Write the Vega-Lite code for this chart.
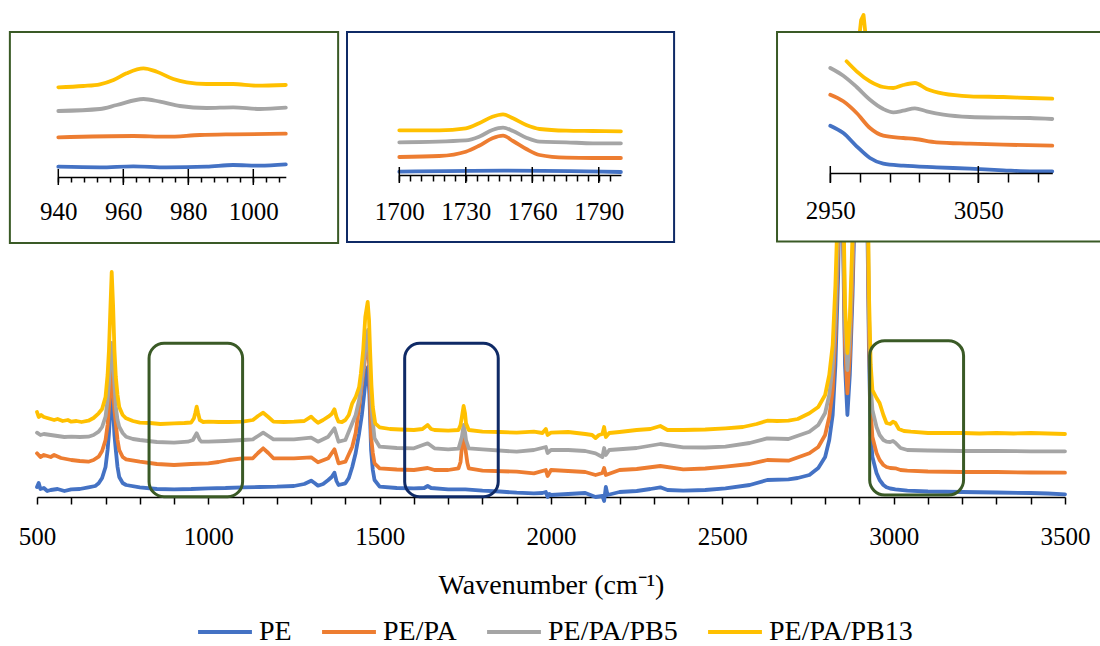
{
"$schema":"https://vega.github.io/schema/vega-lite/v6.json",
"width":1028,"height":497,
"autosize":{"type":"none"},
"padding":{"left":37,"top":0,"right":35,"bottom":149},
"background":"white",
"config":{"view":{"stroke":null},"font":"Liberation Serif",
"axis":{"grid":false,"labelFont":"Liberation Serif","titleFont":"Liberation Serif","labelColor":"black","titleColor":"black","labelFlush":false,"labelOverlap":false,"domainColor":"black","tickColor":"black","domainWidth":1.5,"tickWidth":1.5,"titleFontWeight":"normal"},
"legend":{"labelFont":"Liberation Serif","labelColor":"black"}},
"datasets":{
"main":[
{"s":"PE","w":500,"v":8},{"s":"PE","w":505,"v":12},{"s":"PE","w":510,"v":6},{"s":"PE","w":520,"v":7},{"s":"PE","w":530,"v":4},{"s":"PE","w":540,"v":5},{"s":"PE","w":560,"v":6},{"s":"PE","w":580,"v":4},{"s":"PE","w":600,"v":5.7},{"s":"PE","w":625,"v":6},{"s":"PE","w":650,"v":7.7},{"s":"PE","w":670,"v":9},{"s":"PE","w":680,"v":11.7},{"s":"PE","w":690,"v":17},{"s":"PE","w":700,"v":28},{"s":"PE","w":706,"v":45},{"s":"PE","w":710,"v":61.7},{"s":"PE","w":714,"v":85},{"s":"PE","w":718,"v":110},{"s":"PE","w":722,"v":85},{"s":"PE","w":726,"v":60},{"s":"PE","w":730,"v":45},{"s":"PE","w":735,"v":28},{"s":"PE","w":740,"v":18},{"s":"PE","w":750,"v":12},{"s":"PE","w":760,"v":10},{"s":"PE","w":800,"v":7.7},{"s":"PE","w":850,"v":6},{"s":"PE","w":900,"v":5.7},{"s":"PE","w":950,"v":6},{"s":"PE","w":1000,"v":6.7},{"s":"PE","w":1050,"v":7},{"s":"PE","w":1100,"v":7.7},{"s":"PE","w":1150,"v":8},{"s":"PE","w":1200,"v":8.3},{"s":"PE","w":1250,"v":9},{"s":"PE","w":1280,"v":11},{"s":"PE","w":1300,"v":14.3},{"s":"PE","w":1310,"v":12},{"s":"PE","w":1320,"v":9.3},{"s":"PE","w":1335,"v":11},{"s":"PE","w":1350,"v":15},{"s":"PE","w":1360,"v":18},{"s":"PE","w":1368,"v":22.3},{"s":"PE","w":1374,"v":14},{"s":"PE","w":1380,"v":10},{"s":"PE","w":1400,"v":11.7},{"s":"PE","w":1410,"v":17},{"s":"PE","w":1420,"v":28},{"s":"PE","w":1430,"v":42},{"s":"PE","w":1440,"v":61.7},{"s":"PE","w":1448,"v":80},{"s":"PE","w":1455,"v":101.7},{"s":"PE","w":1462,"v":125},{"s":"PE","w":1466,"v":128},{"s":"PE","w":1470,"v":100},{"s":"PE","w":1475,"v":45},{"s":"PE","w":1480,"v":25},{"s":"PE","w":1485,"v":15},{"s":"PE","w":1500,"v":8.3},{"s":"PE","w":1550,"v":7},{"s":"PE","w":1600,"v":6.7},{"s":"PE","w":1630,"v":7},{"s":"PE","w":1640,"v":9},{"s":"PE","w":1650,"v":7},{"s":"PE","w":1700,"v":5.7},{"s":"PE","w":1750,"v":5.7},{"s":"PE","w":1800,"v":4.3},{"s":"PE","w":1850,"v":3.5},{"s":"PE","w":1900,"v":2.3},{"s":"PE","w":1950,"v":1.7},{"s":"PE","w":1975,"v":2},{"s":"PE","w":1985,"v":3},{"s":"PE","w":1990,"v":-2},{"s":"PE","w":1995,"v":1},{"s":"PE","w":2000,"v":0},{"s":"PE","w":2050,"v":1},{"s":"PE","w":2100,"v":2},{"s":"PE","w":2130,"v":-2},{"s":"PE","w":2150,"v":-1},{"s":"PE","w":2155,"v":-6},{"s":"PE","w":2160,"v":8},{"s":"PE","w":2165,"v":0},{"s":"PE","w":2200,"v":3},{"s":"PE","w":2250,"v":4},{"s":"PE","w":2290,"v":6},{"s":"PE","w":2319,"v":7.7},{"s":"PE","w":2340,"v":5},{"s":"PE","w":2386,"v":4.3},{"s":"PE","w":2450,"v":5},{"s":"PE","w":2509,"v":6.7},{"s":"PE","w":2580,"v":10},{"s":"PE","w":2631,"v":15},{"s":"PE","w":2693,"v":15.7},{"s":"PE","w":2720,"v":17},{"s":"PE","w":2754,"v":20},{"s":"PE","w":2780,"v":27},{"s":"PE","w":2800,"v":38},{"s":"PE","w":2812,"v":55},{"s":"PE","w":2822,"v":80},{"s":"PE","w":2830,"v":130},{"s":"PE","w":2838,"v":220},{"s":"PE","w":2843,"v":320},{"s":"PE","w":2848,"v":380},{"s":"PE","w":2853,"v":240},{"s":"PE","w":2858,"v":130},{"s":"PE","w":2865,"v":80},{"s":"PE","w":2872,"v":120},{"s":"PE","w":2880,"v":200},{"s":"PE","w":2888,"v":310},{"s":"PE","w":2897,"v":390},{"s":"PE","w":2905,"v":408},{"s":"PE","w":2912,"v":410},{"s":"PE","w":2918,"v":390},{"s":"PE","w":2923,"v":280},{"s":"PE","w":2928,"v":140},{"s":"PE","w":2933,"v":60},{"s":"PE","w":2938,"v":38},{"s":"PE","w":2950,"v":22},{"s":"PE","w":2959,"v":15},{"s":"PE","w":2970,"v":10},{"s":"PE","w":2979,"v":7.7},{"s":"PE","w":2990,"v":6.5},{"s":"PE","w":3005,"v":5.7},{"s":"PE","w":3040,"v":4.3},{"s":"PE","w":3100,"v":3.5},{"s":"PE","w":3200,"v":3},{"s":"PE","w":3300,"v":2.5},{"s":"PE","w":3400,"v":2},{"s":"PE","w":3450,"v":1.5},{"s":"PE","w":3500,"v":0.7},
{"s":"PE/PA","w":500,"v":41.7},{"s":"PE/PA","w":510,"v":38},{"s":"PE/PA","w":520,"v":40},{"s":"PE/PA","w":540,"v":38},{"s":"PE/PA","w":550,"v":40},{"s":"PE/PA","w":570,"v":37},{"s":"PE/PA","w":600,"v":35},{"s":"PE/PA","w":625,"v":34},{"s":"PE/PA","w":650,"v":33.3},{"s":"PE/PA","w":665,"v":35},{"s":"PE/PA","w":680,"v":38.3},{"s":"PE/PA","w":690,"v":44},{"s":"PE/PA","w":700,"v":55},{"s":"PE/PA","w":706,"v":70},{"s":"PE/PA","w":710,"v":88},{"s":"PE/PA","w":714,"v":105},{"s":"PE/PA","w":718,"v":125},{"s":"PE/PA","w":722,"v":105},{"s":"PE/PA","w":726,"v":85},{"s":"PE/PA","w":730,"v":71.7},{"s":"PE/PA","w":735,"v":55},{"s":"PE/PA","w":740,"v":45},{"s":"PE/PA","w":750,"v":38},{"s":"PE/PA","w":760,"v":35.7},{"s":"PE/PA","w":800,"v":33.3},{"s":"PE/PA","w":850,"v":31},{"s":"PE/PA","w":900,"v":30},{"s":"PE/PA","w":950,"v":31},{"s":"PE/PA","w":1000,"v":31.7},{"s":"PE/PA","w":1030,"v":33},{"s":"PE/PA","w":1060,"v":35},{"s":"PE/PA","w":1100,"v":36.7},{"s":"PE/PA","w":1130,"v":36.7},{"s":"PE/PA","w":1145,"v":42},{"s":"PE/PA","w":1160,"v":46.7},{"s":"PE/PA","w":1175,"v":42},{"s":"PE/PA","w":1190,"v":36.7},{"s":"PE/PA","w":1250,"v":36.7},{"s":"PE/PA","w":1300,"v":37.7},{"s":"PE/PA","w":1320,"v":32.7},{"s":"PE/PA","w":1350,"v":36.7},{"s":"PE/PA","w":1368,"v":45.7},{"s":"PE/PA","w":1380,"v":31.7},{"s":"PE/PA","w":1400,"v":33.3},{"s":"PE/PA","w":1420,"v":48.3},{"s":"PE/PA","w":1430,"v":62},{"s":"PE/PA","w":1440,"v":88},{"s":"PE/PA","w":1448,"v":110},{"s":"PE/PA","w":1455,"v":130},{"s":"PE/PA","w":1462,"v":150},{"s":"PE/PA","w":1466,"v":152},{"s":"PE/PA","w":1470,"v":125},{"s":"PE/PA","w":1475,"v":58},{"s":"PE/PA","w":1480,"v":42},{"s":"PE/PA","w":1485,"v":31.7},{"s":"PE/PA","w":1500,"v":26.7},{"s":"PE/PA","w":1550,"v":25.5},{"s":"PE/PA","w":1600,"v":25},{"s":"PE/PA","w":1640,"v":27},{"s":"PE/PA","w":1660,"v":25},{"s":"PE/PA","w":1700,"v":25},{"s":"PE/PA","w":1730,"v":26.7},{"s":"PE/PA","w":1736,"v":33},{"s":"PE/PA","w":1740,"v":48.3},{"s":"PE/PA","w":1745,"v":58},{"s":"PE/PA","w":1749,"v":50},{"s":"PE/PA","w":1752,"v":41.7},{"s":"PE/PA","w":1756,"v":32},{"s":"PE/PA","w":1760,"v":26.7},{"s":"PE/PA","w":1800,"v":24.3},{"s":"PE/PA","w":1900,"v":23.3},{"s":"PE/PA","w":1950,"v":21.7},{"s":"PE/PA","w":1985,"v":25},{"s":"PE/PA","w":1990,"v":19},{"s":"PE/PA","w":2000,"v":25},{"s":"PE/PA","w":2050,"v":24},{"s":"PE/PA","w":2100,"v":23},{"s":"PE/PA","w":2130,"v":20},{"s":"PE/PA","w":2150,"v":22},{"s":"PE/PA","w":2155,"v":27},{"s":"PE/PA","w":2160,"v":20},{"s":"PE/PA","w":2200,"v":25},{"s":"PE/PA","w":2250,"v":26},{"s":"PE/PA","w":2319,"v":29},{"s":"PE/PA","w":2386,"v":25.7},{"s":"PE/PA","w":2450,"v":26.5},{"s":"PE/PA","w":2509,"v":28.3},{"s":"PE/PA","w":2580,"v":31},{"s":"PE/PA","w":2631,"v":35},{"s":"PE/PA","w":2693,"v":34.3},{"s":"PE/PA","w":2754,"v":41.7},{"s":"PE/PA","w":2780,"v":48},{"s":"PE/PA","w":2800,"v":60},{"s":"PE/PA","w":2812,"v":78},{"s":"PE/PA","w":2822,"v":105},{"s":"PE/PA","w":2830,"v":160},{"s":"PE/PA","w":2838,"v":250},{"s":"PE/PA","w":2843,"v":350},{"s":"PE/PA","w":2848,"v":400},{"s":"PE/PA","w":2853,"v":260},{"s":"PE/PA","w":2858,"v":150},{"s":"PE/PA","w":2865,"v":101.7},{"s":"PE/PA","w":2872,"v":140},{"s":"PE/PA","w":2880,"v":220},{"s":"PE/PA","w":2888,"v":330},{"s":"PE/PA","w":2897,"v":410},{"s":"PE/PA","w":2905,"v":428},{"s":"PE/PA","w":2912,"v":430},{"s":"PE/PA","w":2918,"v":410},{"s":"PE/PA","w":2923,"v":300},{"s":"PE/PA","w":2928,"v":160},{"s":"PE/PA","w":2933,"v":85},{"s":"PE/PA","w":2938,"v":58},{"s":"PE/PA","w":2950,"v":42},{"s":"PE/PA","w":2959,"v":35},{"s":"PE/PA","w":2970,"v":30},{"s":"PE/PA","w":2979,"v":28},{"s":"PE/PA","w":2990,"v":27},{"s":"PE/PA","w":3005,"v":26.7},{"s":"PE/PA","w":3020,"v":25},{"s":"PE/PA","w":3040,"v":24.3},{"s":"PE/PA","w":3100,"v":23.5},{"s":"PE/PA","w":3200,"v":23},{"s":"PE/PA","w":3300,"v":23},{"s":"PE/PA","w":3400,"v":22.5},{"s":"PE/PA","w":3500,"v":22.3},
{"s":"PE/PA/PB5","w":500,"v":62.3},{"s":"PE/PA/PB5","w":510,"v":60},{"s":"PE/PA/PB5","w":520,"v":61},{"s":"PE/PA/PB5","w":540,"v":60},{"s":"PE/PA/PB5","w":560,"v":59},{"s":"PE/PA/PB5","w":580,"v":58},{"s":"PE/PA/PB5","w":600,"v":58.3},{"s":"PE/PA/PB5","w":625,"v":58},{"s":"PE/PA/PB5","w":650,"v":58.3},{"s":"PE/PA/PB5","w":665,"v":60},{"s":"PE/PA/PB5","w":680,"v":63.3},{"s":"PE/PA/PB5","w":690,"v":68},{"s":"PE/PA/PB5","w":700,"v":78.3},{"s":"PE/PA/PB5","w":706,"v":95},{"s":"PE/PA/PB5","w":710,"v":111.7},{"s":"PE/PA/PB5","w":714,"v":135},{"s":"PE/PA/PB5","w":718,"v":152},{"s":"PE/PA/PB5","w":722,"v":135},{"s":"PE/PA/PB5","w":726,"v":110},{"s":"PE/PA/PB5","w":730,"v":88.3},{"s":"PE/PA/PB5","w":735,"v":75},{"s":"PE/PA/PB5","w":740,"v":68.3},{"s":"PE/PA/PB5","w":750,"v":62},{"s":"PE/PA/PB5","w":760,"v":58.3},{"s":"PE/PA/PB5","w":780,"v":56},{"s":"PE/PA/PB5","w":800,"v":55},{"s":"PE/PA/PB5","w":850,"v":53},{"s":"PE/PA/PB5","w":900,"v":52.3},{"s":"PE/PA/PB5","w":940,"v":53.3},{"s":"PE/PA/PB5","w":955,"v":55},{"s":"PE/PA/PB5","w":966,"v":61.7},{"s":"PE/PA/PB5","w":975,"v":55},{"s":"PE/PA/PB5","w":980,"v":53.3},{"s":"PE/PA/PB5","w":1000,"v":53.3},{"s":"PE/PA/PB5","w":1050,"v":54},{"s":"PE/PA/PB5","w":1100,"v":55},{"s":"PE/PA/PB5","w":1130,"v":55.7},{"s":"PE/PA/PB5","w":1145,"v":59},{"s":"PE/PA/PB5","w":1160,"v":62.3},{"s":"PE/PA/PB5","w":1175,"v":59},{"s":"PE/PA/PB5","w":1190,"v":55.7},{"s":"PE/PA/PB5","w":1250,"v":55.7},{"s":"PE/PA/PB5","w":1300,"v":57.3},{"s":"PE/PA/PB5","w":1320,"v":53.3},{"s":"PE/PA/PB5","w":1350,"v":58.3},{"s":"PE/PA/PB5","w":1368,"v":66.7},{"s":"PE/PA/PB5","w":1380,"v":53.3},{"s":"PE/PA/PB5","w":1400,"v":55},{"s":"PE/PA/PB5","w":1420,"v":71.7},{"s":"PE/PA/PB5","w":1430,"v":80},{"s":"PE/PA/PB5","w":1440,"v":95},{"s":"PE/PA/PB5","w":1448,"v":115},{"s":"PE/PA/PB5","w":1455,"v":135},{"s":"PE/PA/PB5","w":1462,"v":160},{"s":"PE/PA/PB5","w":1466,"v":165},{"s":"PE/PA/PB5","w":1470,"v":140},{"s":"PE/PA/PB5","w":1474,"v":105},{"s":"PE/PA/PB5","w":1478,"v":80},{"s":"PE/PA/PB5","w":1485,"v":56.7},{"s":"PE/PA/PB5","w":1500,"v":48.3},{"s":"PE/PA/PB5","w":1550,"v":47},{"s":"PE/PA/PB5","w":1600,"v":46.7},{"s":"PE/PA/PB5","w":1640,"v":51.7},{"s":"PE/PA/PB5","w":1660,"v":46.7},{"s":"PE/PA/PB5","w":1700,"v":45.7},{"s":"PE/PA/PB5","w":1730,"v":46.3},{"s":"PE/PA/PB5","w":1740,"v":58.3},{"s":"PE/PA/PB5","w":1745,"v":70},{"s":"PE/PA/PB5","w":1749,"v":63},{"s":"PE/PA/PB5","w":1752,"v":55},{"s":"PE/PA/PB5","w":1760,"v":46.7},{"s":"PE/PA/PB5","w":1800,"v":45.7},{"s":"PE/PA/PB5","w":1900,"v":43.3},{"s":"PE/PA/PB5","w":1950,"v":45},{"s":"PE/PA/PB5","w":1985,"v":48},{"s":"PE/PA/PB5","w":1990,"v":42},{"s":"PE/PA/PB5","w":2000,"v":45},{"s":"PE/PA/PB5","w":2050,"v":45},{"s":"PE/PA/PB5","w":2100,"v":44},{"s":"PE/PA/PB5","w":2130,"v":41.7},{"s":"PE/PA/PB5","w":2150,"v":38},{"s":"PE/PA/PB5","w":2155,"v":47},{"s":"PE/PA/PB5","w":2160,"v":40},{"s":"PE/PA/PB5","w":2170,"v":45},{"s":"PE/PA/PB5","w":2250,"v":47},{"s":"PE/PA/PB5","w":2319,"v":51},{"s":"PE/PA/PB5","w":2386,"v":47.7},{"s":"PE/PA/PB5","w":2450,"v":47.5},{"s":"PE/PA/PB5","w":2509,"v":48.3},{"s":"PE/PA/PB5","w":2580,"v":52},{"s":"PE/PA/PB5","w":2631,"v":56.7},{"s":"PE/PA/PB5","w":2693,"v":56},{"s":"PE/PA/PB5","w":2754,"v":63.3},{"s":"PE/PA/PB5","w":2780,"v":70},{"s":"PE/PA/PB5","w":2800,"v":82},{"s":"PE/PA/PB5","w":2812,"v":100},{"s":"PE/PA/PB5","w":2822,"v":128},{"s":"PE/PA/PB5","w":2830,"v":180},{"s":"PE/PA/PB5","w":2838,"v":270},{"s":"PE/PA/PB5","w":2843,"v":370},{"s":"PE/PA/PB5","w":2848,"v":420},{"s":"PE/PA/PB5","w":2853,"v":280},{"s":"PE/PA/PB5","w":2858,"v":170},{"s":"PE/PA/PB5","w":2865,"v":125},{"s":"PE/PA/PB5","w":2872,"v":158},{"s":"PE/PA/PB5","w":2880,"v":240},{"s":"PE/PA/PB5","w":2888,"v":350},{"s":"PE/PA/PB5","w":2897,"v":430},{"s":"PE/PA/PB5","w":2905,"v":448},{"s":"PE/PA/PB5","w":2912,"v":450},{"s":"PE/PA/PB5","w":2918,"v":430},{"s":"PE/PA/PB5","w":2923,"v":320},{"s":"PE/PA/PB5","w":2928,"v":180},{"s":"PE/PA/PB5","w":2933,"v":110},{"s":"PE/PA/PB5","w":2938,"v":85},{"s":"PE/PA/PB5","w":2950,"v":68},{"s":"PE/PA/PB5","w":2959,"v":60},{"s":"PE/PA/PB5","w":2970,"v":55},{"s":"PE/PA/PB5","w":2979,"v":53.3},{"s":"PE/PA/PB5","w":2990,"v":53},{"s":"PE/PA/PB5","w":2998,"v":54},{"s":"PE/PA/PB5","w":3005,"v":52.3},{"s":"PE/PA/PB5","w":3020,"v":47},{"s":"PE/PA/PB5","w":3040,"v":45},{"s":"PE/PA/PB5","w":3100,"v":44.5},{"s":"PE/PA/PB5","w":3200,"v":44},{"s":"PE/PA/PB5","w":3300,"v":44},{"s":"PE/PA/PB5","w":3400,"v":43.7},{"s":"PE/PA/PB5","w":3500,"v":43.7},
{"s":"PE/PA/PB13","w":500,"v":83},{"s":"PE/PA/PB13","w":505,"v":78},{"s":"PE/PA/PB13","w":512,"v":80},{"s":"PE/PA/PB13","w":520,"v":78},{"s":"PE/PA/PB13","w":530,"v":77},{"s":"PE/PA/PB13","w":540,"v":76},{"s":"PE/PA/PB13","w":550,"v":75},{"s":"PE/PA/PB13","w":560,"v":76},{"s":"PE/PA/PB13","w":575,"v":74},{"s":"PE/PA/PB13","w":590,"v":75},{"s":"PE/PA/PB13","w":600,"v":73.3},{"s":"PE/PA/PB13","w":615,"v":74},{"s":"PE/PA/PB13","w":630,"v":73},{"s":"PE/PA/PB13","w":650,"v":74.3},{"s":"PE/PA/PB13","w":665,"v":77},{"s":"PE/PA/PB13","w":680,"v":81.7},{"s":"PE/PA/PB13","w":690,"v":86},{"s":"PE/PA/PB13","w":700,"v":98},{"s":"PE/PA/PB13","w":706,"v":120},{"s":"PE/PA/PB13","w":710,"v":145},{"s":"PE/PA/PB13","w":714,"v":185},{"s":"PE/PA/PB13","w":718,"v":223},{"s":"PE/PA/PB13","w":722,"v":190},{"s":"PE/PA/PB13","w":726,"v":145},{"s":"PE/PA/PB13","w":730,"v":118},{"s":"PE/PA/PB13","w":735,"v":100},{"s":"PE/PA/PB13","w":740,"v":88},{"s":"PE/PA/PB13","w":750,"v":80},{"s":"PE/PA/PB13","w":760,"v":76.7},{"s":"PE/PA/PB13","w":780,"v":74},{"s":"PE/PA/PB13","w":800,"v":72.3},{"s":"PE/PA/PB13","w":830,"v":72},{"s":"PE/PA/PB13","w":860,"v":71},{"s":"PE/PA/PB13","w":900,"v":71.7},{"s":"PE/PA/PB13","w":930,"v":72},{"s":"PE/PA/PB13","w":950,"v":72.5},{"s":"PE/PA/PB13","w":958,"v":76.7},{"s":"PE/PA/PB13","w":962,"v":82},{"s":"PE/PA/PB13","w":966,"v":88.3},{"s":"PE/PA/PB13","w":970,"v":82},{"s":"PE/PA/PB13","w":975,"v":75},{"s":"PE/PA/PB13","w":985,"v":73},{"s":"PE/PA/PB13","w":1000,"v":73.3},{"s":"PE/PA/PB13","w":1030,"v":73},{"s":"PE/PA/PB13","w":1060,"v":73},{"s":"PE/PA/PB13","w":1100,"v":73.3},{"s":"PE/PA/PB13","w":1130,"v":75},{"s":"PE/PA/PB13","w":1145,"v":79},{"s":"PE/PA/PB13","w":1160,"v":82.3},{"s":"PE/PA/PB13","w":1175,"v":78},{"s":"PE/PA/PB13","w":1190,"v":73.3},{"s":"PE/PA/PB13","w":1220,"v":73},{"s":"PE/PA/PB13","w":1250,"v":73.3},{"s":"PE/PA/PB13","w":1280,"v":74},{"s":"PE/PA/PB13","w":1300,"v":78.3},{"s":"PE/PA/PB13","w":1310,"v":75},{"s":"PE/PA/PB13","w":1320,"v":72.3},{"s":"PE/PA/PB13","w":1335,"v":75},{"s":"PE/PA/PB13","w":1350,"v":78.3},{"s":"PE/PA/PB13","w":1360,"v":81},{"s":"PE/PA/PB13","w":1368,"v":85.7},{"s":"PE/PA/PB13","w":1374,"v":78},{"s":"PE/PA/PB13","w":1380,"v":73.3},{"s":"PE/PA/PB13","w":1390,"v":73},{"s":"PE/PA/PB13","w":1400,"v":75},{"s":"PE/PA/PB13","w":1410,"v":80},{"s":"PE/PA/PB13","w":1420,"v":91.7},{"s":"PE/PA/PB13","w":1430,"v":98},{"s":"PE/PA/PB13","w":1440,"v":108},{"s":"PE/PA/PB13","w":1445,"v":121},{"s":"PE/PA/PB13","w":1452,"v":145},{"s":"PE/PA/PB13","w":1458,"v":178},{"s":"PE/PA/PB13","w":1465,"v":193},{"s":"PE/PA/PB13","w":1469,"v":175},{"s":"PE/PA/PB13","w":1472,"v":145},{"s":"PE/PA/PB13","w":1476,"v":110},{"s":"PE/PA/PB13","w":1480,"v":88},{"s":"PE/PA/PB13","w":1487,"v":71.7},{"s":"PE/PA/PB13","w":1500,"v":67.7},{"s":"PE/PA/PB13","w":1530,"v":66},{"s":"PE/PA/PB13","w":1560,"v":65.5},{"s":"PE/PA/PB13","w":1600,"v":65},{"s":"PE/PA/PB13","w":1625,"v":66},{"s":"PE/PA/PB13","w":1640,"v":70},{"s":"PE/PA/PB13","w":1650,"v":66},{"s":"PE/PA/PB13","w":1660,"v":65},{"s":"PE/PA/PB13","w":1700,"v":64.3},{"s":"PE/PA/PB13","w":1730,"v":65},{"s":"PE/PA/PB13","w":1736,"v":70},{"s":"PE/PA/PB13","w":1740,"v":78.3},{"s":"PE/PA/PB13","w":1745,"v":89},{"s":"PE/PA/PB13","w":1749,"v":82},{"s":"PE/PA/PB13","w":1752,"v":71.7},{"s":"PE/PA/PB13","w":1760,"v":65},{"s":"PE/PA/PB13","w":1800,"v":63.3},{"s":"PE/PA/PB13","w":1850,"v":63},{"s":"PE/PA/PB13","w":1900,"v":62.3},{"s":"PE/PA/PB13","w":1950,"v":63.3},{"s":"PE/PA/PB13","w":1975,"v":62},{"s":"PE/PA/PB13","w":1985,"v":66},{"s":"PE/PA/PB13","w":1990,"v":60},{"s":"PE/PA/PB13","w":2000,"v":62.3},{"s":"PE/PA/PB13","w":2050,"v":63},{"s":"PE/PA/PB13","w":2100,"v":61},{"s":"PE/PA/PB13","w":2120,"v":60},{"s":"PE/PA/PB13","w":2130,"v":57},{"s":"PE/PA/PB13","w":2140,"v":60},{"s":"PE/PA/PB13","w":2150,"v":61},{"s":"PE/PA/PB13","w":2155,"v":68},{"s":"PE/PA/PB13","w":2160,"v":58},{"s":"PE/PA/PB13","w":2170,"v":62},{"s":"PE/PA/PB13","w":2200,"v":63},{"s":"PE/PA/PB13","w":2250,"v":65},{"s":"PE/PA/PB13","w":2290,"v":66},{"s":"PE/PA/PB13","w":2319,"v":69},{"s":"PE/PA/PB13","w":2340,"v":65},{"s":"PE/PA/PB13","w":2386,"v":65},{"s":"PE/PA/PB13","w":2450,"v":65.5},{"s":"PE/PA/PB13","w":2509,"v":66.7},{"s":"PE/PA/PB13","w":2560,"v":68},{"s":"PE/PA/PB13","w":2600,"v":71},{"s":"PE/PA/PB13","w":2631,"v":74.3},{"s":"PE/PA/PB13","w":2660,"v":74},{"s":"PE/PA/PB13","w":2693,"v":74.3},{"s":"PE/PA/PB13","w":2720,"v":76},{"s":"PE/PA/PB13","w":2754,"v":81.7},{"s":"PE/PA/PB13","w":2780,"v":88},{"s":"PE/PA/PB13","w":2800,"v":100},{"s":"PE/PA/PB13","w":2812,"v":120},{"s":"PE/PA/PB13","w":2822,"v":150},{"s":"PE/PA/PB13","w":2830,"v":210},{"s":"PE/PA/PB13","w":2838,"v":300},{"s":"PE/PA/PB13","w":2843,"v":400},{"s":"PE/PA/PB13","w":2848,"v":440},{"s":"PE/PA/PB13","w":2853,"v":300},{"s":"PE/PA/PB13","w":2858,"v":190},{"s":"PE/PA/PB13","w":2865,"v":142},{"s":"PE/PA/PB13","w":2872,"v":175},{"s":"PE/PA/PB13","w":2880,"v":260},{"s":"PE/PA/PB13","w":2888,"v":370},{"s":"PE/PA/PB13","w":2897,"v":450},{"s":"PE/PA/PB13","w":2905,"v":475},{"s":"PE/PA/PB13","w":2912,"v":480},{"s":"PE/PA/PB13","w":2918,"v":460},{"s":"PE/PA/PB13","w":2923,"v":350},{"s":"PE/PA/PB13","w":2928,"v":200},{"s":"PE/PA/PB13","w":2933,"v":130},{"s":"PE/PA/PB13","w":2938,"v":105},{"s":"PE/PA/PB13","w":2950,"v":97},{"s":"PE/PA/PB13","w":2959,"v":92},{"s":"PE/PA/PB13","w":2970,"v":80},{"s":"PE/PA/PB13","w":2979,"v":72},{"s":"PE/PA/PB13","w":2990,"v":71},{"s":"PE/PA/PB13","w":2998,"v":73.3},{"s":"PE/PA/PB13","w":3005,"v":72},{"s":"PE/PA/PB13","w":3015,"v":66},{"s":"PE/PA/PB13","w":3030,"v":64},{"s":"PE/PA/PB13","w":3050,"v":63.3},{"s":"PE/PA/PB13","w":3100,"v":62},{"s":"PE/PA/PB13","w":3150,"v":62},{"s":"PE/PA/PB13","w":3200,"v":62},{"s":"PE/PA/PB13","w":3250,"v":61.5},{"s":"PE/PA/PB13","w":3300,"v":62},{"s":"PE/PA/PB13","w":3350,"v":61.5},{"s":"PE/PA/PB13","w":3400,"v":62},{"s":"PE/PA/PB13","w":3450,"v":61.5},{"s":"PE/PA/PB13","w":3500,"v":61}
],
"ins":[
{"p":1,"s":"PE","w":940,"v":10.3},{"p":1,"s":"PE","w":952.8,"v":9.7},{"p":1,"s":"PE","w":963.1,"v":10.7},{"p":1,"s":"PE","w":973.3,"v":9.7},{"p":1,"s":"PE","w":985.6,"v":10.3},{"p":1,"s":"PE","w":993.8,"v":12},{"p":1,"s":"PE","w":1002,"v":11.3},{"p":1,"s":"PE","w":1010,"v":12.7},
{"p":1,"s":"PE/PA","w":940,"v":39.7},{"p":1,"s":"PE/PA","w":963.1,"v":41},{"p":1,"s":"PE/PA","w":973.3,"v":40.3},{"p":1,"s":"PE/PA","w":983.6,"v":42},{"p":1,"s":"PE/PA","w":993.8,"v":42.7},{"p":1,"s":"PE/PA","w":1010,"v":43.3},
{"p":1,"s":"PE/PA/PB5","w":940,"v":66},{"p":1,"s":"PE/PA/PB5","w":952.8,"v":68},{"p":1,"s":"PE/PA/PB5","w":958,"v":72},{"p":1,"s":"PE/PA/PB5","w":966.2,"v":78},{"p":1,"s":"PE/PA/PB5","w":971.3,"v":75.3},{"p":1,"s":"PE/PA/PB5","w":977.4,"v":71},{"p":1,"s":"PE/PA/PB5","w":985.6,"v":69},{"p":1,"s":"PE/PA/PB5","w":993.8,"v":69.7},{"p":1,"s":"PE/PA/PB5","w":1002,"v":68},{"p":1,"s":"PE/PA/PB5","w":1010,"v":69.3},
{"p":1,"s":"PE/PA/PB13","w":940,"v":89.7},{"p":1,"s":"PE/PA/PB13","w":947.7,"v":91},{"p":1,"s":"PE/PA/PB13","w":952.8,"v":92.7},{"p":1,"s":"PE/PA/PB13","w":957,"v":97},{"p":1,"s":"PE/PA/PB13","w":961,"v":103.7},{"p":1,"s":"PE/PA/PB13","w":966.2,"v":108.7},{"p":1,"s":"PE/PA/PB13","w":970.3,"v":105.3},{"p":1,"s":"PE/PA/PB13","w":975.4,"v":98},{"p":1,"s":"PE/PA/PB13","w":979.5,"v":94.7},{"p":1,"s":"PE/PA/PB13","w":985.6,"v":93},{"p":1,"s":"PE/PA/PB13","w":993.8,"v":93},{"p":1,"s":"PE/PA/PB13","w":1001,"v":91.3},{"p":1,"s":"PE/PA/PB13","w":1010,"v":92},
{"p":2,"s":"PE","w":1700,"v":3.3},{"p":2,"s":"PE","w":1746.8,"v":4.3},{"p":2,"s":"PE","w":1800,"v":3},
{"p":2,"s":"PE/PA","w":1700,"v":18},{"p":2,"s":"PE/PA","w":1718,"v":19},{"p":2,"s":"PE/PA","w":1730,"v":23.3},{"p":2,"s":"PE/PA","w":1736,"v":29.3},{"p":2,"s":"PE/PA","w":1742,"v":36.7},{"p":2,"s":"PE/PA","w":1746.8,"v":39.3},{"p":2,"s":"PE/PA","w":1751.3,"v":34},{"p":2,"s":"PE/PA","w":1757.3,"v":26},{"p":2,"s":"PE/PA","w":1763.3,"v":20},{"p":2,"s":"PE/PA","w":1775.3,"v":17.3},{"p":2,"s":"PE/PA","w":1787.3,"v":17},{"p":2,"s":"PE/PA","w":1800,"v":17},
{"p":2,"s":"PE/PA/PB5","w":1700,"v":32.7},{"p":2,"s":"PE/PA/PB5","w":1730,"v":34.7},{"p":2,"s":"PE/PA/PB5","w":1736,"v":38.3},{"p":2,"s":"PE/PA/PB5","w":1742,"v":45},{"p":2,"s":"PE/PA/PB5","w":1746.8,"v":47.3},{"p":2,"s":"PE/PA/PB5","w":1751.3,"v":44},{"p":2,"s":"PE/PA/PB5","w":1757.3,"v":37.3},{"p":2,"s":"PE/PA/PB5","w":1763.3,"v":33.3},{"p":2,"s":"PE/PA/PB5","w":1775.3,"v":32.7},{"p":2,"s":"PE/PA/PB5","w":1787.3,"v":31.7},{"p":2,"s":"PE/PA/PB5","w":1800,"v":31.7},
{"p":2,"s":"PE/PA/PB13","w":1700,"v":44.7},{"p":2,"s":"PE/PA/PB13","w":1718,"v":44.7},{"p":2,"s":"PE/PA/PB13","w":1730,"v":46.7},{"p":2,"s":"PE/PA/PB13","w":1736,"v":51.7},{"p":2,"s":"PE/PA/PB13","w":1742,"v":58.3},{"p":2,"s":"PE/PA/PB13","w":1746.8,"v":60.7},{"p":2,"s":"PE/PA/PB13","w":1751.3,"v":56.7},{"p":2,"s":"PE/PA/PB13","w":1757.3,"v":50},{"p":2,"s":"PE/PA/PB13","w":1763.3,"v":46},{"p":2,"s":"PE/PA/PB13","w":1775.3,"v":44.3},{"p":2,"s":"PE/PA/PB13","w":1787.3,"v":44},{"p":2,"s":"PE/PA/PB13","w":1800,"v":43.7},
{"p":3,"s":"PE","w":2950,"v":47.3},{"p":3,"s":"PE","w":2958.8,"v":40},{"p":3,"s":"PE","w":2967.8,"v":26.7},{"p":3,"s":"PE","w":2976.8,"v":15},{"p":3,"s":"PE","w":2985.8,"v":9.3},{"p":3,"s":"PE","w":2999.3,"v":7.3},{"p":3,"s":"PE","w":3021.8,"v":5.7},{"p":3,"s":"PE","w":3044.4,"v":4.3},{"p":3,"s":"PE","w":3066.9,"v":2.7},{"p":3,"s":"PE","w":3084.9,"v":1.7},{"p":3,"s":"PE","w":3100,"v":1.7},
{"p":3,"s":"PE/PA","w":2950,"v":78.3},{"p":3,"s":"PE/PA","w":2958.8,"v":71.7},{"p":3,"s":"PE/PA","w":2967.8,"v":60},{"p":3,"s":"PE/PA","w":2976.8,"v":45},{"p":3,"s":"PE/PA","w":2985.8,"v":37.3},{"p":3,"s":"PE/PA","w":2999.3,"v":35},{"p":3,"s":"PE/PA","w":3007.2,"v":34},{"p":3,"s":"PE/PA","w":3021.8,"v":30.7},{"p":3,"s":"PE/PA","w":3044.4,"v":29.3},{"p":3,"s":"PE/PA","w":3066.9,"v":28.3},{"p":3,"s":"PE/PA","w":3100,"v":27.3},
{"p":3,"s":"PE/PA/PB5","w":2950,"v":105},{"p":3,"s":"PE/PA/PB5","w":2958.8,"v":97.3},{"p":3,"s":"PE/PA/PB5","w":2967.8,"v":86},{"p":3,"s":"PE/PA/PB5","w":2976.8,"v":73.3},{"p":3,"s":"PE/PA/PB5","w":2985.8,"v":64},{"p":3,"s":"PE/PA/PB5","w":2992.6,"v":60.7},{"p":3,"s":"PE/PA/PB5","w":2999.3,"v":62.3},{"p":3,"s":"PE/PA/PB5","w":3007.2,"v":64.7},{"p":3,"s":"PE/PA/PB5","w":3015.1,"v":61.7},{"p":3,"s":"PE/PA/PB5","w":3026.4,"v":58.3},{"p":3,"s":"PE/PA/PB5","w":3044.4,"v":56},{"p":3,"s":"PE/PA/PB5","w":3066.9,"v":55.3},{"p":3,"s":"PE/PA/PB5","w":3084.9,"v":55},{"p":3,"s":"PE/PA/PB5","w":3100,"v":54},
{"p":3,"s":"PE/PA/PB13","w":2961,"v":111.7},{"p":3,"s":"PE/PA/PB13","w":2967.8,"v":101.7},{"p":3,"s":"PE/PA/PB13","w":2976.8,"v":91.7},{"p":3,"s":"PE/PA/PB13","w":2985.8,"v":86},{"p":3,"s":"PE/PA/PB13","w":2992.6,"v":85},{"p":3,"s":"PE/PA/PB13","w":2999.3,"v":88},{"p":3,"s":"PE/PA/PB13","w":3007.2,"v":90},{"p":3,"s":"PE/PA/PB13","w":3015.1,"v":84},{"p":3,"s":"PE/PA/PB13","w":3026.4,"v":79.3},{"p":3,"s":"PE/PA/PB13","w":3044.4,"v":76.7},{"p":3,"s":"PE/PA/PB13","w":3066.9,"v":76},{"p":3,"s":"PE/PA/PB13","w":3084.9,"v":75},{"p":3,"s":"PE/PA/PB13","w":3100,"v":74.3}
],
"frames":[{"r":"a","x1":827,"x2":1100,"y1":-1.7,"y2":151.7},{"r":"b","x1":1573,"x2":1846,"y1":-1.7,"y2":151.7},{"r":"c","x1":2930,"x2":3204,"y1":0,"y2":154.3}],
"boxes":[{"p":1,"x1":925.1,"x2":1026.1,"y1":145,"y2":-66},{"p":2,"x1":1676.4,"x2":1824,"y1":143,"y2":-67},{"p":3,"x1":2914,"x2":3140,"y1":141,"y2":-68.5}],
"majors":[{"p":1,"w":940},{"p":1,"w":960},{"p":1,"w":980},{"p":1,"w":1000},{"p":2,"w":1700},{"p":2,"w":1730},{"p":2,"w":1760},{"p":2,"w":1790},{"p":3,"w":2950},{"p":3,"w":3050}]
},
"resolve":{"scale":{"x":"independent","y":"independent"}},
"layer":[
{"data":{"name":"main"},
"mark":{"type":"line","strokeWidth":3.8,"strokeJoin":"round","strokeCap":"round"},
"encoding":{
"x":{"field":"w","type":"quantitative","scale":{"domain":[500,3500],"nice":false,"zero":false},
"axis":{"orient":"bottom","values":[500,600,700,800,900,1000,1100,1200,1300,1400,1500,1600,1700,1800,1900,2000,2100,2200,2300,2400,2500,2600,2700,2800,2900,3000,3100,3200,3300,3400,3500],"labelExpr":"datum.value % 500 === 0 ? datum.label : ''","format":"d","tickSize":7,"labelPadding":20,"labelFont":"Liberation Serif","labelFontSize":25,"title":"Wavenumber (cm⁻¹)","titleFont":"Liberation Serif","titleFontSize":28,"titleY":96,"titleBaseline":"alphabetic"}},
"y":{"field":"v","type":"quantitative","scale":{"domain":[-2,495],"nice":false,"zero":false},"axis":null},
"color":{"field":"s","type":"nominal","scale":{"domain":["PE","PE/PA","PE/PA/PB5","PE/PA/PB13"],"range":["#4472C4","#ED7D31","#A5A5A5","#FFC000"]},
"legend":{"orient":"none","legendX":159,"legendY":603,"direction":"horizontal","title":null,"symbolType":"stroke","symbolSize":2900,"symbolStrokeWidth":4,"labelFont":"Liberation Serif","labelFontSize":28,"columnPadding":22,"labelOffset":5}}}},
{"data":{"name":"frames"},
"mark":{"type":"rect","filled":false,"strokeWidth":3,"cornerRadius":15},
"encoding":{
"x":{"field":"x1","type":"quantitative","scale":{"domain":[500,3500],"nice":false,"zero":false},"axis":null},"x2":{"field":"x2"},
"y":{"field":"y1","type":"quantitative","scale":{"domain":[-2,495],"nice":false,"zero":false},"axis":null},"y2":{"field":"y2"},
"stroke":{"condition":{"test":"datum.r === 'b'","value":"#0F2A66"},"value":"#3A5A26"}}},
{"data":{"name":"boxes"},"transform":[{"filter":"datum.p === 1"}],
"mark":{"type":"rect","fill":"white","stroke":"#3A5A26","strokeWidth":2},
"encoding":{"x":{"field":"x1","type":"quantitative","scale":{"domain":[940,1010],"range":[21.3,248.8],"nice":false,"zero":false},"axis":null},"x2":{"field":"x2"},
"y":{"field":"y1","type":"quantitative","scale":{"domain":[0,177],"range":[177,0],"nice":false,"zero":false},"axis":null},"y2":{"field":"y2"}}},
{"data":{"name":"boxes"},"transform":[{"filter":"datum.p === 2"}],
"mark":{"type":"rect","fill":"white","stroke":"#0F2A66","strokeWidth":2},
"encoding":{"x":{"field":"x1","type":"quantitative","scale":{"domain":[1700,1800],"range":[362.3,583.9],"nice":false,"zero":false},"axis":null},"x2":{"field":"x2"},
"y":{"field":"y1","type":"quantitative","scale":{"domain":[0,175],"range":[175,0],"nice":false,"zero":false},"axis":null},"y2":{"field":"y2"}}},
{"data":{"name":"boxes"},"transform":[{"filter":"datum.p === 3"}],
"mark":{"type":"rect","fill":"white","stroke":"#3A5A26","strokeWidth":2},
"encoding":{"x":{"field":"x1","type":"quantitative","scale":{"domain":[2950,3100],"range":[793.3,1015.3],"nice":false,"zero":false},"axis":null},"x2":{"field":"x2"},
"y":{"field":"y1","type":"quantitative","scale":{"domain":[0,173],"range":[173,0],"nice":false,"zero":false},"axis":null},"y2":{"field":"y2"}}},
{"data":{"name":"ins"},"transform":[{"filter":"datum.p === 1"}],
"mark":{"type":"line","strokeWidth":3.8,"interpolate":"monotone","strokeCap":"round"},
"encoding":{"x":{"field":"w","type":"quantitative","scale":{"domain":[940,1010],"range":[21.3,248.8],"nice":false,"zero":false},
"axis":{"orient":"bottom","zindex":1,"offset":-320,"values":[940,944,948,952,956,960,964,968,972,976,980,984,988,992,996,1000,1004,1008],"labelExpr":"datum.value % 20 === 0 ? datum.label : ''","format":"d","tickSize":5,"labelPadding":17,"labelFont":"Liberation Serif","labelFontSize":25,"title":null}},
"y":{"field":"v","type":"quantitative","scale":{"domain":[0,177],"range":[177,0],"nice":false,"zero":false},"axis":null},
"color":{"field":"s","type":"nominal","legend":null}}},
{"data":{"name":"majors"},"transform":[{"filter":"datum.p === 1"}],
"mark":{"type":"rule","stroke":"black","strokeWidth":1.5},
"encoding":{"x":{"field":"w","type":"quantitative","scale":{"domain":[940,1010],"range":[21.3,248.8],"nice":false,"zero":false},"axis":null},
"y":{"datum":8,"type":"quantitative","scale":{"domain":[0,177],"range":[177,0],"nice":false,"zero":false},"axis":null},"y2":{"datum":-8}}},
{"data":{"name":"ins"},"transform":[{"filter":"datum.p === 2"}],
"mark":{"type":"line","strokeWidth":3.8,"interpolate":"monotone","strokeCap":"round"},
"encoding":{"x":{"field":"w","type":"quantitative","scale":{"domain":[1700,1800],"range":[362.3,583.9],"nice":false,"zero":false},
"axis":{"orient":"bottom","zindex":1,"offset":-322,"values":[1700,1705,1710,1715,1720,1725,1730,1735,1740,1745,1750,1755,1760,1765,1770,1775,1780,1785,1790,1795],"labelExpr":"(datum.value - 1700) % 30 === 0 ? datum.label : ''","format":"d","tickSize":6,"labelPadding":18,"labelFont":"Liberation Serif","labelFontSize":25,"title":null}},
"y":{"field":"v","type":"quantitative","scale":{"domain":[0,175],"range":[175,0],"nice":false,"zero":false},"axis":null},
"color":{"field":"s","type":"nominal","legend":null}}},
{"data":{"name":"majors"},"transform":[{"filter":"datum.p === 2"}],
"mark":{"type":"rule","stroke":"black","strokeWidth":1.5},
"encoding":{"x":{"field":"w","type":"quantitative","scale":{"domain":[1700,1800],"range":[362.3,583.9],"nice":false,"zero":false},"axis":null},
"y":{"datum":8,"type":"quantitative","scale":{"domain":[0,175],"range":[175,0],"nice":false,"zero":false},"axis":null},"y2":{"datum":-8}}},
{"data":{"name":"ins"},"transform":[{"filter":"datum.p === 3"}],
"mark":{"type":"line","strokeWidth":3.8,"interpolate":"monotone","strokeCap":"round"},
"encoding":{"x":{"field":"w","type":"quantitative","scale":{"domain":[2950,3100],"range":[793.3,1015.3],"nice":false,"zero":false},
"axis":{"orient":"bottom","zindex":1,"offset":-324,"values":[2950,2970,2990,3010,3030,3050,3070,3090],"labelExpr":"datum.value === 2950 || datum.value === 3050 ? datum.label : ''","format":"d","tickSize":9,"labelPadding":16,"labelFont":"Liberation Serif","labelFontSize":25,"title":null}},
"y":{"field":"v","type":"quantitative","scale":{"domain":[0,173],"range":[173,0],"nice":false,"zero":false},"axis":null},
"color":{"field":"s","type":"nominal","legend":null}}},
{"data":{"name":"majors"},"transform":[{"filter":"datum.p === 3"}],
"mark":{"type":"rule","stroke":"black","strokeWidth":1.5},
"encoding":{"x":{"field":"w","type":"quantitative","scale":{"domain":[2950,3100],"range":[793.3,1015.3],"nice":false,"zero":false},"axis":null},
"y":{"datum":7,"type":"quantitative","scale":{"domain":[0,173],"range":[173,0],"nice":false,"zero":false},"axis":null},"y2":{"datum":-10}}}
]
}
